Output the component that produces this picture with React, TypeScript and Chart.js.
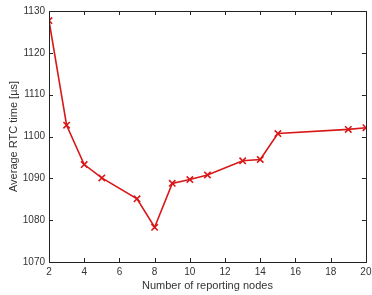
import React, { useEffect, useRef } from "react";
import { Chart, registerables } from "chart.js";

Chart.register(...registerables);

const nodes = [2, 3, 4, 5, 7, 8, 9, 10, 11, 13, 14, 15, 19, 20];
const rtcTime = [1127.7, 1102.7, 1093.3, 1090.1, 1085.1, 1078.3, 1088.8, 1089.7, 1090.8, 1094.2, 1094.5, 1100.7, 1101.7, 1102.1];
const xTicks = [2, 4, 6, 8, 10, 12, 14, 16, 18, 20];
const yTicks = [1070, 1080, 1090, 1100, 1110, 1120, 1130];

const boxPlugin = {
  id: "boxTicks",
  afterDraw(chart: any) {
    const { ctx, chartArea: a, scales } = chart;
    const x = scales.x;
    const y = scales.y;
    ctx.save();
    ctx.strokeStyle = "#222";
    ctx.lineWidth = 1;
    ctx.strokeRect(Math.round(a.left) + 0.5, Math.round(a.top) + 0.5, Math.round(a.right - a.left), Math.round(a.bottom - a.top));
    const len = 4;
    ctx.beginPath();
    xTicks.forEach((v) => {
      const px = Math.round(x.getPixelForValue(v)) + 0.5;
      ctx.moveTo(px, a.bottom);
      ctx.lineTo(px, a.bottom - len);
      ctx.moveTo(px, a.top);
      ctx.lineTo(px, a.top + len);
    });
    yTicks.forEach((v) => {
      const py = Math.round(y.getPixelForValue(v)) + 0.5;
      ctx.moveTo(a.left, py);
      ctx.lineTo(a.left + len, py);
      ctx.moveTo(a.right, py);
      ctx.lineTo(a.right - len, py);
    });
    ctx.stroke();
    ctx.restore();
  },
};

export default function App() {
  const ref = useRef<HTMLCanvasElement>(null);
  useEffect(() => {
    document.body.style.margin = "0";
    const chart = new Chart(ref.current!, {
      type: "line",
      data: {
        datasets: [
          {
            data: nodes.map((n, i) => ({ x: n, y: rtcTime[i] })),
            borderColor: "#d81818",
            backgroundColor: "#d81818",
            borderWidth: 1.6,
            pointStyle: "crossRot",
            pointRadius: 4.5,
            pointBorderWidth: 1.6,
            pointBorderColor: "#d81818",
            tension: 0,
            fill: false,
          },
        ],
      },
      options: {
        responsive: false,
        animation: false,
        layout: { padding: { top: 11, right: 3, left: 0, bottom: 0 } },
        plugins: { legend: { display: false }, tooltip: { enabled: false } },
        scales: {
          x: {
            type: "linear",
            min: 2,
            max: 20,
            afterBuildTicks: (s: any) => {
              s.ticks = xTicks.map((v) => ({ value: v }));
            },
            afterFit: (s: any) => {
              s.height = 33;
              s.paddingLeft = 0;
              s.paddingRight = 0;
            },
            grid: { display: false, drawTicks: false },
            border: { display: false },
            ticks: {
              padding: 4,
              color: "#333",
              font: { family: "Liberation Sans", size: 10 },
              maxRotation: 0,
              callback: (v: any) => String(v),
            },
            title: {
              display: true,
              text: "Number of reporting nodes",
              color: "#333",
              font: { family: "Liberation Sans", size: 11 },
              padding: { top: 0, bottom: 2 },
            },
          },
          y: {
            type: "linear",
            min: 1070,
            max: 1130,
            afterBuildTicks: (s: any) => {
              s.ticks = yTicks.map((v) => ({ value: v }));
            },
            afterFit: (s: any) => {
              s.width = 49;
              s.paddingTop = 0;
              s.paddingBottom = 0;
            },
            grid: { display: false, drawTicks: false },
            border: { display: false },
            ticks: {
              padding: 4,
              color: "#333",
              font: { family: "Liberation Sans", size: 10 },
              callback: (v: any) => String(v),
            },
            title: {
              display: true,
              text: "Average RTC time [µs]",
              color: "#333",
              font: { family: "Liberation Sans", size: 11 },
              padding: { top: 7, bottom: 0 },
            },
          },
        },
      },
      plugins: [boxPlugin],
    } as any);
    return () => chart.destroy();
  }, []);
  return (
    <div style={{ width: 372, height: 295, background: "#fff" }}>
      <canvas ref={ref} width={372} height={295} />
    </div>
  );
}
